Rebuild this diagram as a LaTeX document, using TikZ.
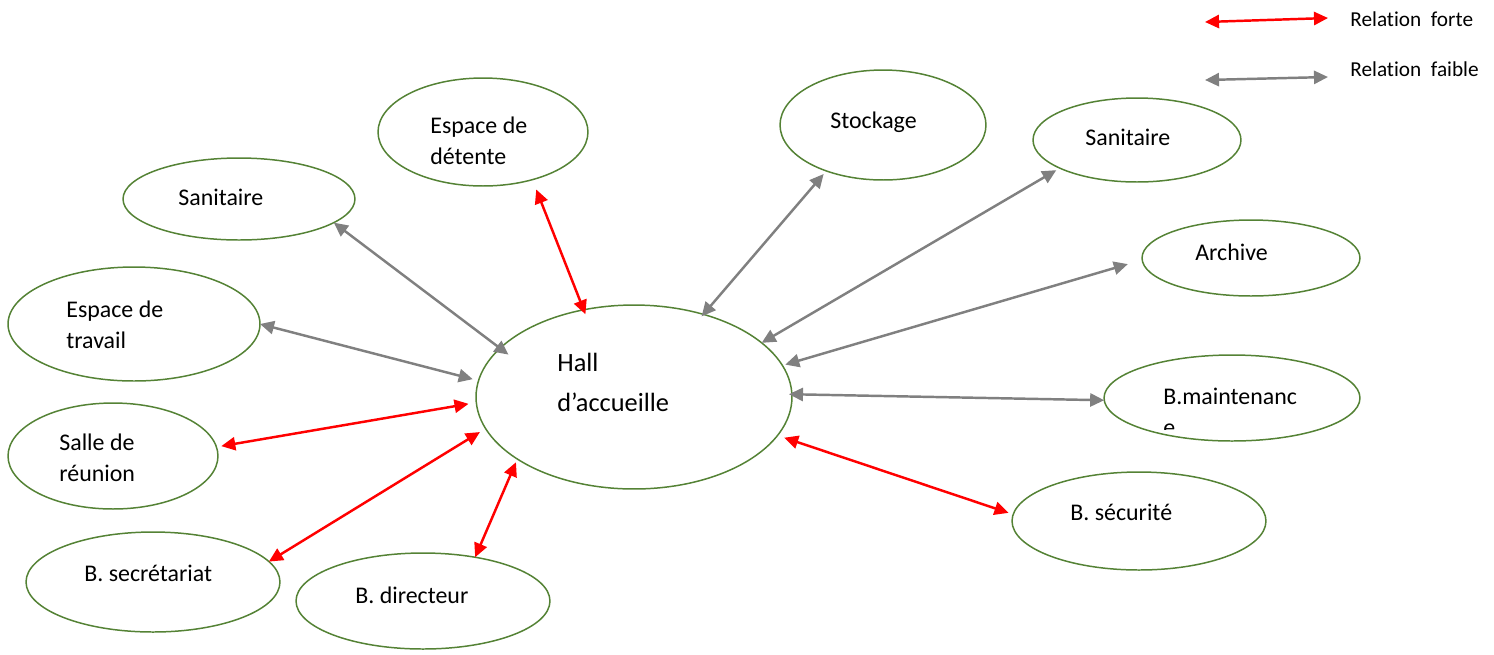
\documentclass[tikz,border=0pt]{standalone}
\usepackage{fontspec}
\setmainfont{Carlito}[Ligatures=NoCommon]
\usetikzlibrary{shapes.geometric,arrows.meta}
\definecolor{egreen}{RGB}{84,130,53}
\definecolor{fred}{RGB}{255,0,0}
\definecolor{fgray}{RGB}{128,128,128}
\begin{document}
\begin{tikzpicture}[x=0.02cm,y=-0.02cm,
  room/.style={ellipse,draw=egreen,line width=0.85pt,inner sep=0pt,outer sep=0pt},
  lbl/.style={anchor=west,inner sep=0pt,align=left,font=\fontsize{13.6}{17.6}\selectfont},
  legtxt/.style={anchor=west,inner sep=0pt,font=\fontsize{12.1}{14}\selectfont},
  strong/.style={draw=fred,line width=1.4pt,{Triangle[length=8pt,width=7.5pt]}-{Triangle[length=8pt,width=7.5pt]}},
  weak/.style={draw=fgray,line width=1.4pt,{Triangle[length=8pt,width=7.5pt]}-{Triangle[length=8pt,width=7.5pt]}}]
\useasboundingbox (0,0) rectangle (1494,654);

% ellipses
\node[room,minimum width=6.32cm,minimum height=3.68cm] (hall) at (634,397) {};
\node[room,minimum width=4.2cm,minimum height=2.16cm] (det) at (483,132) {};
\node[room,minimum width=4.12cm,minimum height=2.2cm] (sto) at (883,125) {};
\node[room,minimum width=4.16cm,minimum height=1.68cm] (sanr) at (1137,140) {};
\node[room,minimum width=4.64cm,minimum height=1.64cm] (sanl) at (239,199) {};
\node[room,minimum width=5.04cm,minimum height=2.28cm] (trav) at (134,324) {};
\node[room,minimum width=4.36cm,minimum height=1.52cm] (arc) at (1251,258) {};
\node[room,minimum width=5.12cm,minimum height=1.72cm] (mai) at (1232,398) {};
\node[room,minimum width=4.2cm,minimum height=2.12cm] (reu) at (113,456) {};
\node[room,minimum width=5.08cm,minimum height=1.96cm] (secu) at (1139,521) {};
\node[room,minimum width=5.08cm,minimum height=2.0cm] (sec) at (153,582) {};
\node[room,minimum width=5.08cm,minimum height=1.92cm] (dir) at (423,601) {};

% labels
\node[lbl] (tdet) at (430,141) {Espace de\\détente};
\node[lbl] (tsanl) at (178,197) {Sanitaire};
\node[lbl] (tsto) at (830,122) {Stockage};
\node[lbl] (tsanr) at (1085,137) {Sanitaire};
\node[lbl] (tarc) at (1195,252) {Archive};
\node[lbl] (ttrav) at (66,325) {Espace de\\travail};
\node[lbl,font=\fontsize{15}{22.7}\selectfont] (thall) at (557,382) {Hall\\d’accueille};
\node[lbl] (treu) at (59,458) {Salle de\\réunion};
\node[lbl] (tsecu) at (1070,512) {B. sécurité};
\node[lbl] (tsec) at (84,573) {B. secrétariat};
\node[lbl] (tdir) at (355,595) {B. directeur};
\begin{scope}
\clip (1100,360) rectangle (1360,429);
\node[lbl] (tmai) at (1163,412) {B.maintenanc\\e};
\end{scope}

% strong relations
\draw[strong,shorten <=6pt,shorten >=-2.7pt] (det.316.5) -- (hall.120);
\draw[strong,shorten <=2.8pt,shorten >=4.5pt] (reu.5) -- (hall.182);
\draw[strong,shorten >=3.8pt] (sec.10.5) -- (hall.192);
\draw[strong,shorten >=2pt] (dir.40.8) -- (hall.208.8);
\draw[strong,shorten <=2.8pt,shorten >=4pt] (secu.177.4) -- (hall.345.5);

% weak relations
\draw[weak,shorten >=-6pt] (sanl.346.3) -- (hall.160.6);
\draw[weak,shorten >=3.4pt] (trav.0) -- (hall.174.4);
\draw[weak,shorten <=2.3pt,shorten >=-1.5pt] (sto.219.7) -- (hall.50.4);
\draw[weak,shorten <=2.3pt] (sanr.200.6) -- (hall.23.8);
\draw[weak,shorten <=8.5pt,shorten >=1.7pt] (arc.181.4) -- (hall.12.3);
\draw[weak,shorten >=-1.7pt] (mai.181.8) -- (hall.1.8);

% legend
\coordinate (lr1) at (1205,22);
\coordinate (lr2) at (1328,18);
\coordinate (lg1) at (1205,80);
\coordinate (lg2) at (1328,77);
\draw[strong] (lr1) -- (lr2);
\draw[weak] (lg1) -- (lg2);
\node[legtxt] (tforte) at (1350,19) {Relation\ \ forte};
\node[legtxt] (tfaible) at (1350,69) {Relation\ \ faible};
\end{tikzpicture}
\end{document}
